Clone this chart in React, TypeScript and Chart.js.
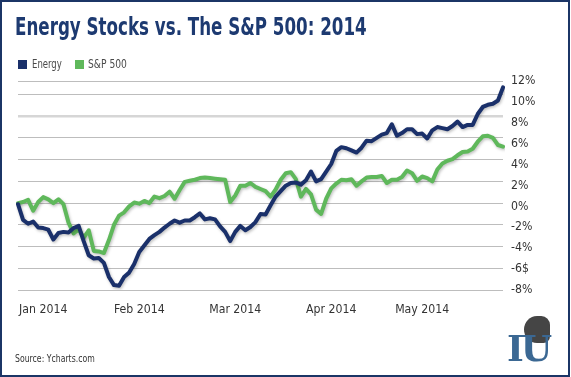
import React, { useEffect, useLayoutEffect, useMemo, useRef, useState } from 'react';
import { Chart, registerables } from 'chart.js';

Chart.register(...registerables);

// ---- data (percent change since start of 2014, read from the picture) ----
const energy: number[] = [
  -0.1, -1.55, -1.9, -1.7, -2.25, -2.3, -2.45, -3.35, -2.75, -2.65,
  -2.7, -2.3, -2.1, -3.5, -4.8, -5.1, -5.05, -5.5, -6.8, -7.55,
  -7.6, -6.8, -6.4, -5.6, -4.5, -3.9, -3.3, -2.95, -2.65, -2.25,
  -1.9, -1.6, -1.8, -1.6, -1.6, -1.3, -0.95, -1.5, -1.4, -1.5,
  -2.15, -2.65, -3.5, -2.65, -2.1, -2.5, -2.2, -1.75, -1.0, -1.05,
  -0.2, 0.6, 1.1, 1.6, 1.85, 1.9, 1.7, 2.1, 2.9, 2.0,
  2.2, 2.9, 3.6, 4.8, 5.15, 5.05, 4.85, 4.65, 5.1, 5.75,
  5.7, 6.0, 6.3, 6.45, 7.25, 6.2, 6.45, 6.8, 6.8, 6.35,
  6.4, 5.95, 6.7, 7.0, 6.9, 6.8, 7.1, 7.5, 7.0, 7.2,
  7.2, 8.2, 8.85, 9.05, 9.15, 9.45, 10.65,
];

const sp500: number[] = [
  0, 0.1, 0.3, -0.7, 0.1, 0.55, 0.35, 0.0, 0.35, -0.1,
  -1.8, -2.8, -2.4, -3.2, -2.5, -4.4, -4.45, -4.6, -3.4, -2.0,
  -1.15, -0.85, -0.3, 0.05, -0.05, 0.2, 0.0, 0.6, 0.45, 0.65,
  1.05, 0.4, 1.2, 1.95, 2.05, 2.15, 2.3, 2.35, 2.3, 2.25,
  2.2, 2.15, 0.1, 0.7, 1.6, 1.6, 1.85, 1.5, 1.3, 1.1,
  0.6, 1.25, 2.15, 2.75, 2.85, 2.2, 0.6, 1.3, 0.8, -0.6,
  -1.0, 0.4, 1.35, 1.8, 2.15, 2.1, 2.2, 1.6, 2.0, 2.35,
  2.4, 2.4, 2.5, 1.85, 2.15, 2.15, 2.4, 3.0, 2.75, 2.05,
  2.45, 2.3, 2.0, 3.1, 3.65, 3.9, 4.05, 4.4, 4.7, 4.75,
  5.0, 5.65, 6.15, 6.2, 6.0, 5.35, 5.2,
];

const monthLabels = ['Jan 2014', 'Feb 2014', 'Mar 2014', 'Apr 2014', 'May 2014'];
const monthLabelIndex = [5, 24, 43, 62, 80];
const yLabelValues = [-8, -6, -4, -2, 0, 2, 4, 6, 8, 10, 12];
const gridTop = 11.24;
const gridValues = [-8, -6, -4, -2, 0, 2, 4, 6, 8, 10, gridTop];

const xLabels: string[] = energy.map((_, i) => {
  const k = monthLabelIndex.indexOf(i);
  return k >= 0 ? monthLabels[k] : '';
});

const NAVY = '#1a306a';
const GREEN = '#5fb85b';
const TITLE = '#1d3a71';
const FRAME = '#1b3566';

function hasFont(family: string): boolean {
  const ctx = document.createElement('canvas').getContext('2d');
  if (!ctx) return false;
  const s = 'mmmmmmmmmmlli WwQq 0123456789% Energy';
  for (const base of ['monospace', 'serif']) {
    ctx.font = `40px ${base}`;
    const w0 = ctx.measureText(s).width;
    ctx.font = `40px "${family}", ${base}`;
    if (Math.abs(ctx.measureText(s).width - w0) > 0.01) return true;
  }
  return false;
}

function resolveFonts() {
  const cands = ['Liberation Sans Narrow', 'DejaVu Sans Condensed', 'Roboto Condensed', 'Open Sans Condensed'];
  const found = cands.find(hasFont);
  const family = found ? `'${found}', 'Liberation Sans', sans-serif` : `Roboto, 'Liberation Sans', sans-serif`;
  const ctx = document.createElement('canvas').getContext('2d')!;
  ctx.font = `normal 100px ${family}`;
  const tick = Math.round((48.5 / ctx.measureText('Jan 2014').width) * 1000) / 10;
  return { family, tick };
}

const shadowPlugin = {
  id: 'lineShadow',
  beforeDatasetDraw(chart: any) {
    const c = chart.ctx;
    c.save();
    c.shadowColor = 'rgba(0,0,0,0.25)';
    c.shadowBlur = 3;
    c.shadowOffsetX = 1;
    c.shadowOffsetY = 1.5;
  },
  afterDatasetDraw(chart: any) {
    chart.ctx.restore();
  },
};

function FitText(props: { text: string; width: number; style: React.CSSProperties }) {
  const ref = useRef<HTMLSpanElement>(null);
  const [k, setK] = useState(1);
  useLayoutEffect(() => {
    const el = ref.current;
    if (el && el.offsetWidth > 0) setK(props.width / el.offsetWidth);
  }, [props.width, props.text]);
  return (
    <div
      style={{
        position: 'absolute',
        whiteSpace: 'nowrap',
        ...props.style,
        transform: `scaleX(${k})`,
        transformOrigin: 'left top',
      }}
    >
      <span ref={ref} style={{ display: 'inline-block' }}>
        {props.text}
      </span>
    </div>
  );
}

export default function App() {
  const canvasRef = useRef<HTMLCanvasElement>(null);
  const fonts = useMemo(() => resolveFonts(), []);

  useEffect(() => {
    const canvas = canvasRef.current;
    if (!canvas) return;
    const tickFont = { family: fonts.family, size: fonts.tick };
    const chart = new Chart(canvas, {
      type: 'line',
      data: {
        labels: xLabels,
        datasets: [
          {
            label: 'Energy',
            data: energy,
            borderColor: NAVY,
            backgroundColor: NAVY,
            borderWidth: 4,
            pointRadius: 0,
            tension: 0,
            borderJoinStyle: 'round',
            borderCapStyle: 'round',
            yAxisID: 'y',
          },
          {
            label: 'S&P 500',
            data: sp500,
            borderColor: GREEN,
            backgroundColor: GREEN,
            borderWidth: 4,
            pointRadius: 0,
            tension: 0,
            borderJoinStyle: 'round',
            borderCapStyle: 'round',
            yAxisID: 'y',
          },
        ],
      },
      options: {
        responsive: false,
        animation: false,
        devicePixelRatio: 1,
        events: [],
        layout: { padding: { left: 18, top: 81, right: 0, bottom: 0 } },
        plugins: {
          legend: { display: false },
          title: { display: false },
          tooltip: { enabled: false },
        },
        scales: {
          x: {
            type: 'category',
            offset: false,
            grid: { display: false, drawTicks: false },
            border: { display: false },
            ticks: {
              autoSkip: false,
              maxRotation: 0,
              minRotation: 0,
              padding: 13,
              color: '#333333',
              font: tickFont,
            },
            afterFit: (s: any) => {
              s.height = 87;
            },
          },
          y: {
            type: 'linear',
            position: 'left',
            min: -8,
            max: gridTop,
            border: { display: false },
            grid: {
              drawTicks: false,
              color: (c: any) => (c.tick && c.tick.value === 8 ? '#d6d6d6' : '#bdbdbd'),
              lineWidth: (c: any) => (c.tick && c.tick.value === 8 ? 2.5 : 1),
            },
            ticks: { display: false },
            afterBuildTicks: (s: any) => {
              s.ticks = gridValues.map((v) => ({ value: v }));
            },
            afterFit: (s: any) => {
              s.width = 0;
            },
          },
          y2: {
            type: 'linear',
            position: 'right',
            min: yLabelValues[0],
            max: yLabelValues[yLabelValues.length - 1],
            border: { display: false },
            grid: { display: false, drawTicks: false },
            ticks: {
              stepSize: 2,
              padding: 8,
              color: '#333333',
              font: tickFont,
              callback: (v: any) => (v === -6 ? '-6$' : `${v}%`),
            },
            afterBuildTicks: (s: any) => {
              s.ticks = yLabelValues.map((v) => ({ value: v }));
            },
            afterFit: (s: any) => {
              s.width = 68;
            },
          },
        },
      } as any,
      plugins: [shadowPlugin],
    });
    return () => chart.destroy();
  }, [fonts]);

  return (
    <div style={{ position: 'fixed', left: 0, top: 0, width: 571, height: 377, background: '#ffffff', overflow: 'hidden' }}>
      <div
        style={{
          position: 'absolute',
          left: 0,
          top: 0,
          width: 570,
          height: 377,
          boxSizing: 'border-box',
          border: `2px solid ${FRAME}`,
        }}
      />
      <canvas
        ref={canvasRef}
        width={571}
        height={377}
        style={{ position: 'absolute', left: 0, top: 0, width: 571, height: 377 }}
      />
      <FitText
        text="Energy Stocks vs. The S&P 500: 2014"
        width={352}
        style={{
          left: 15,
          top: 15,
          fontFamily: fonts.family,
          fontSize: 24,
          lineHeight: '24px',
          fontWeight: 700,
          color: TITLE,
        }}
      />
      <div style={{ position: 'absolute', left: 18, top: 60, width: 9, height: 8.5, background: NAVY }} />
      <FitText
        text="Energy"
        width={30}
        style={{ left: 32, top: 57, fontFamily: fonts.family, fontSize: 12, lineHeight: '15px', color: '#4a4a4a' }}
      />
      <div style={{ position: 'absolute', left: 75, top: 60, width: 9, height: 8.5, background: GREEN }} />
      <FitText
        text="S&P 500"
        width={39}
        style={{ left: 87.5, top: 57, fontFamily: fonts.family, fontSize: 12, lineHeight: '15px', color: '#4a4a4a' }}
      />
      <FitText
        text="Source: Ycharts.com"
        width={80}
        style={{ left: 15, top: 352, fontFamily: fonts.family, fontSize: 11, lineHeight: '13px', color: '#333333' }}
      />
      <div
        style={{
          position: 'absolute',
          left: 524,
          top: 316,
          width: 26,
          height: 27,
          background: '#454545',
          borderRadius: '60% 40% 30% 60%',
        }}
      />
      <div
        style={{
          position: 'absolute',
          whiteSpace: 'nowrap',
          left: 507,
          top: 328,
          fontFamily: "'DejaVu Serif', 'Liberation Serif', serif",
          fontWeight: 700,
          fontSize: 36,
          lineHeight: '40px',
          letterSpacing: -3,
          color: '#3b6893',
        }}
      >
        IU
      </div>
    </div>
  );
}
